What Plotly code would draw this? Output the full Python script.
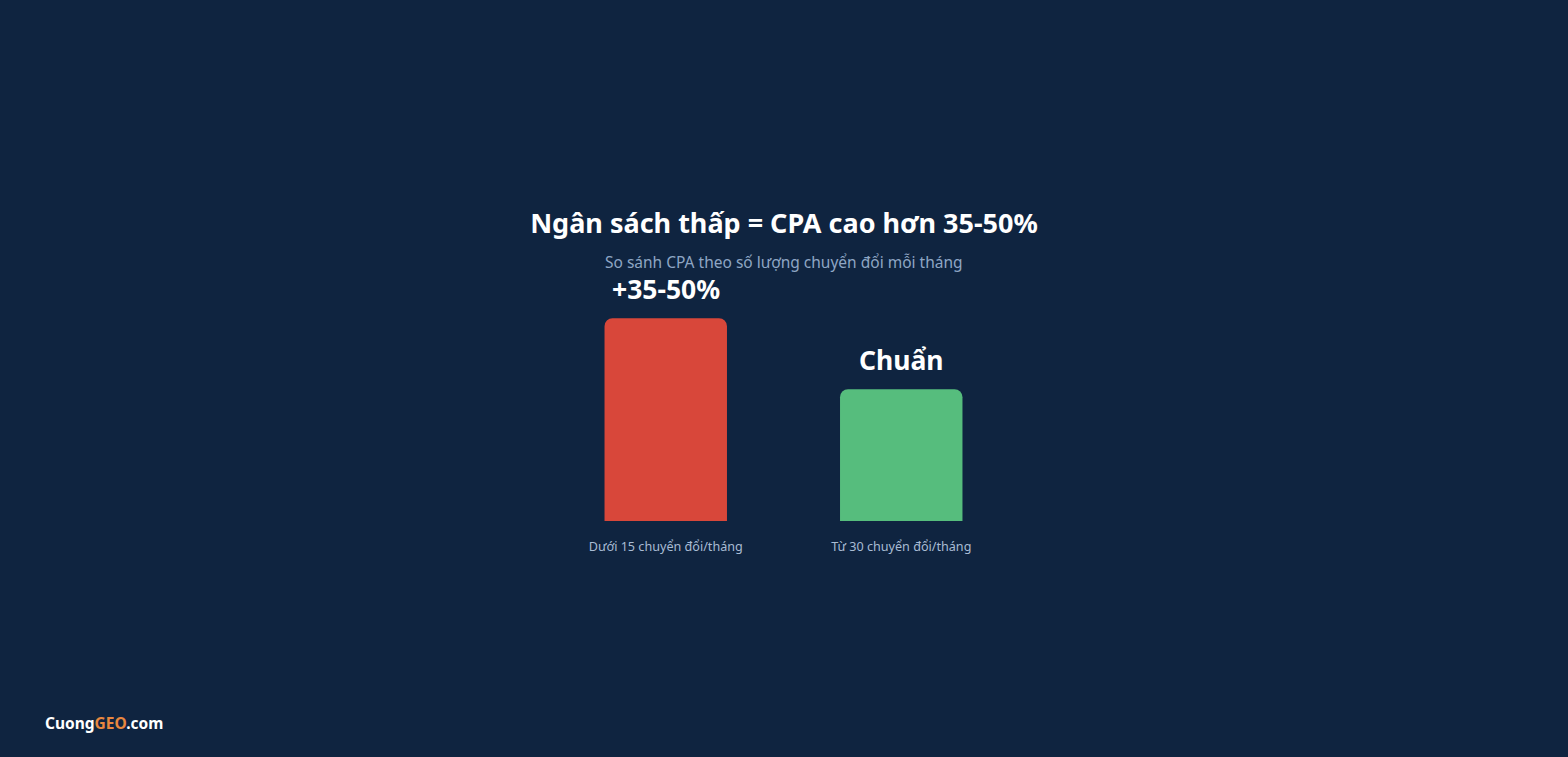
import plotly.graph_objects as go

# Data
categories = ["Dưới 15 chuyển đổi/tháng", "Từ 30 chuyển đổi/tháng"]
cpa_index = [100, 65]
bar_labels = ["+35-50%", "Chuẩn"]
bar_colors = ["#d8473a", "#56bd7d"]

BG = "#0f2440"
FONT = "Noto Sans, Open Sans, sans-serif"

fig = go.Figure()
fig.add_trace(go.Bar(
    x=categories,
    y=cpa_index,
    marker=dict(color=bar_colors, line=dict(width=0)),
    width=0.52,
    hoverinfo="skip",
))

# value labels above bars
for cat, val, lab in zip(categories, cpa_index, bar_labels):
    fig.add_annotation(
        x=cat, y=val, text="<b>%s</b>" % lab,
        showarrow=False, yanchor="bottom", yshift=9,
        font=dict(family=FONT, size=26.5, color="#ffffff"),
    )

# subtitle
fig.add_annotation(
    xref="paper", yref="paper", x=0.5, y=1.161, yanchor="middle",
    text="So sánh CPA theo số lượng chuyển đổi mỗi tháng",
    showarrow=False, font=dict(family=FONT, size=15.5, color="#8ea6c4"),
)

# brand
fig.add_annotation(
    xref="paper", yref="paper", x=-1.072, y=-0.906,
    xanchor="left", yanchor="middle",
    text="<b>Cuong<span style='color:#e8873f'>GEO</span>.com</b>",
    showarrow=False, font=dict(family=FONT, size=15.5, color="#ffffff"),
)

fig.update_layout(
    width=1568, height=757,
    paper_bgcolor=BG, plot_bgcolor=BG,
    margin=dict(l=548, r=549, t=298, b=236),
    barcornerradius=8,
    showlegend=False,
    title=dict(
        text="<b>Ngân sách thấp = CPA cao hơn 35-50%</b>",
        x=0.5, xanchor="center", y=1 - 224 / 757, yanchor="middle",
        font=dict(family=FONT, size=27, color="#ffffff"),
    ),
)
fig.update_xaxes(
    showgrid=False, zeroline=False, showline=False,
    ticks="outside", ticklen=14, tickcolor=BG,
    tickfont=dict(family=FONT, size=12.6, color="#a9bcd4"),
)
fig.update_yaxes(
    range=[0, 110], visible=False, showgrid=False, zeroline=False,
)

fig.write_html(
    "out.html",
    config=dict(displayModeBar=False),
    post_script="document.body.style.margin='0';document.body.style.background='%s';" % BG,
)
